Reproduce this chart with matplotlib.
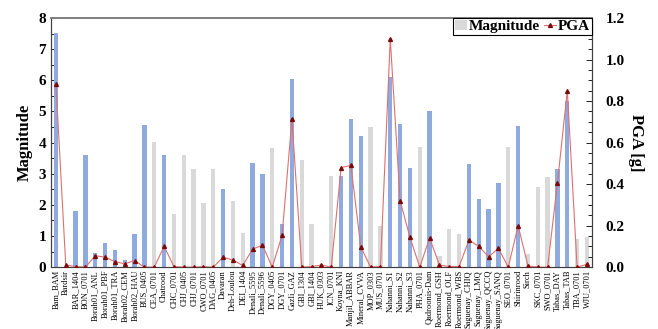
import matplotlib
matplotlib.use("Agg")
import matplotlib.pyplot as plt
from matplotlib.patches import Patch
from matplotlib.lines import Line2D
from matplotlib.ticker import MultipleLocator, FormatStrFormatter
import numpy as np

stations = ["Bam_BAM", "Bardsir", "BAR_1404", "BON_0701", "Borah01_ANL", "Borah01_PBF",
            "Borah01_TRA", "Borah02_CEM", "Borah02_HAU", "BUS_0405", "CEA_0701", "Chatrood",
            "CHC_0701", "CHJ_0405", "CHJ_0701", "CWO_0701", "DAG_0405", "Davaran",
            "Deh-Loulou", "DEI_1404", "Denali_5595", "Denali_5596", "DGY_0405", "DGY_0701",
            "Gazli_GAZ", "GBI_1304", "GBI_1404", "HUK_0303", "ICN_0701", "Koyna_KNI",
            "Manjil_ABBAR", "Mineral_CVVA", "MOP_0303", "MUS_0701", "Nahanni_S1", "Nahanni_S2",
            "Nahanni_S3", "PHA_0701", "Qadroonis-Dam", "Roermond_GSH", "Roermond_OLF",
            "Roermond_WBS", "Saguenay_CHIQ", "Saguenay_LMQ", "Saguenay_QCCQ", "Saguenay_SANQ",
            "SEO_0701", "Shirinrood", "Sirch", "SKC_0701", "SWO_0701", "Tabas_DAY",
            "Tabas_TAB", "TBA_0701", "WJU_0701"]

magnitude = [7.51, 0.0, 1.79, 3.61, 0.45, 0.77, 0.56, 0.24, 1.06, 4.57, 4.03, 3.61,
             1.70, 3.59, 3.16, 2.05, 3.14, 2.51, 2.13, 1.11, 3.34, 2.99, 3.83, 1.39,
             6.03, 3.44, 1.39, 0.0, 2.93, 2.93, 4.76, 4.20, 4.49, 1.32, 6.12, 4.60,
             3.19, 3.86, 5.02, 0.36, 1.22, 1.06, 3.32, 2.18, 1.86, 2.71, 3.87, 4.53,
             0.43, 2.56, 2.89, 3.14, 5.33, 0.92, 0.98]

# 1 = highlighted (blue) bar, 0 = gray bar
highlight = [1, 0, 1, 1, 1, 1, 1, 1, 1, 1, 0, 1,
             0, 0, 0, 0, 0, 1, 0, 0, 1, 1, 0, 1,
             1, 0, 0, 0, 0, 1, 1, 1, 0, 0, 1, 1,
             1, 0, 1, 0, 0, 0, 1, 1, 1, 1, 0, 1,
             0, 0, 0, 1, 1, 0, 0]

pga = [0.883, 0.010, 0.003, 0.0, 0.055, 0.048, 0.027, 0.016, 0.032, 0.0, 0.0, 0.100,
       0.003, 0.0, 0.0, 0.002, 0.0, 0.048, 0.034, 0.008, 0.087, 0.106, 0.0, 0.154,
       0.714, 0.0, 0.003, 0.010, 0.0, 0.480, 0.490, 0.098, 0.0, 0.003, 1.100, 0.320,
       0.144, 0.0, 0.141, 0.010, 0.003, 0.003, 0.130, 0.100, 0.050, 0.090, 0.0, 0.200,
       0.006, 0.0, 0.0, 0.406, 0.850, 0.0, 0.014]

BLUE = "#8EAADF"
GRAY = "#D9D9D9"
RED = "#E07070"
DARKRED = "#7A0A0A"

plt.rcParams["font.family"] = ["Liberation Serif", "DejaVu Serif"]

fig = plt.figure(figsize=(6.58, 3.29), dpi=100)
ax = fig.add_axes([0.0775, 0.188, 0.822, 0.757])

x = np.arange(len(stations))
colors = [BLUE if h else GRAY for h in highlight]
ax.bar(x, magnitude, width=0.45, color=colors, edgecolor="none", zorder=2)
ax.set_xlim(-0.5, len(stations) - 0.5)
ax.set_ylim(0, 8)
ax.yaxis.set_major_locator(MultipleLocator(1))
ax.yaxis.set_minor_locator(MultipleLocator(0.5))
ax.set_xticks(x)
ax.set_xticklabels(stations, rotation=90, fontsize=6.0)
ax.tick_params(axis="x", length=0, pad=2)
ax.tick_params(axis="y", which="both", direction="in", labelsize=11, width=0.6)
ax.tick_params(axis="y", which="major", length=4)
ax.tick_params(axis="y", which="minor", length=3)
for lab in ax.get_yticklabels():
    lab.set_fontweight("bold")
ax.set_ylabel("Magnitude", fontsize=12, fontweight="bold", labelpad=4)

ax2 = ax.twinx()
ax2.plot(x, pga, color=RED, lw=0.8, marker="^", ms=2.8, mfc=DARKRED, mec=DARKRED, zorder=3)
ax2.set_ylim(0, 1.2)
ax2.yaxis.set_major_locator(MultipleLocator(0.2))
ax2.yaxis.set_minor_locator(MultipleLocator(0.05))
ax2.yaxis.set_major_formatter(FormatStrFormatter("%.1f"))
ax2.tick_params(axis="y", which="both", direction="in", labelsize=11, width=0.6, pad=10)
ax2.tick_params(axis="y", which="major", length=4)
ax2.tick_params(axis="y", which="minor", length=3)
for lab in ax2.get_yticklabels():
    lab.set_fontweight("bold")
ax2.set_ylabel("PGA [g]", fontsize=12, fontweight="bold", rotation=270, labelpad=14)

for a in (ax, ax2):
    for s in a.spines.values():
        s.set_color("#404040")
        s.set_linewidth(0.8)
    a.spines["top"].set_color("#808080")
    a.spines["top"].set_linewidth(1.2)

handles = [Patch(facecolor=GRAY, edgecolor="none"),
           Line2D([], [], color=RED, lw=0.8, marker="^", ms=2.8, mfc=DARKRED, mec=DARKRED)]
leg = ax2.legend(handles, ["Magnitude", "PGA"], loc="upper right", ncol=2,
                 bbox_to_anchor=(1.0, 1.0), fancybox=False, framealpha=1,
                 prop={"weight": "bold", "size": 11}, handlelength=0.8, handleheight=0.6,
                 handletextpad=0.1, columnspacing=0.3, borderpad=0.12, borderaxespad=0.0)
leg.get_frame().set_edgecolor("black")
leg.get_frame().set_linewidth(0.8)

fig.savefig("out.png", dpi=100)
